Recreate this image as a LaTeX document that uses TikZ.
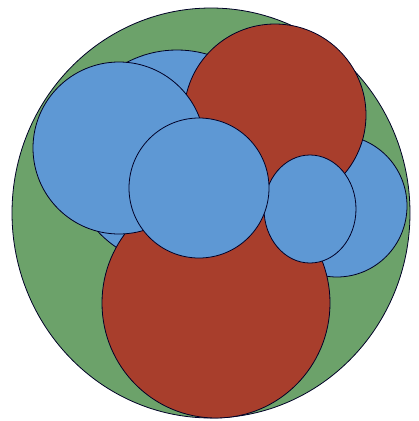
\documentclass[tikz,border=0pt]{standalone}
\begin{document}
\begin{tikzpicture}[x=1pt,y=-1pt,
  disc/.style={draw=black!85!blue, line width=0.8pt},
  greendisc/.style={disc, fill=greenC},
  bluedisc/.style={disc, fill=blueC},
  reddisc/.style={disc, fill=redC}]
\definecolor{greenC}{RGB}{108,162,106}
\definecolor{blueC}{RGB}{94,152,212}
\definecolor{redC}{RGB}{168,62,44}
\useasboundingbox (0,0) rectangle (419,421);
\draw[greendisc] (211,213) ellipse [x radius=199, y radius=205];
\draw[bluedisc] (177,158) ellipse [x radius=108, y radius=108];
\draw[bluedisc] (337,206) ellipse [x radius=70, y radius=71];
\draw[reddisc] (275,115) ellipse [x radius=91, y radius=91];
\draw[reddisc] (216,303) ellipse [x radius=114, y radius=115];
\draw[bluedisc] (119,148) ellipse [x radius=86, y radius=86];
\draw[bluedisc] (310,209) ellipse [x radius=46, y radius=54];
\draw[bluedisc] (199,188) ellipse [x radius=70, y radius=70];
\end{tikzpicture}
\end{document}
